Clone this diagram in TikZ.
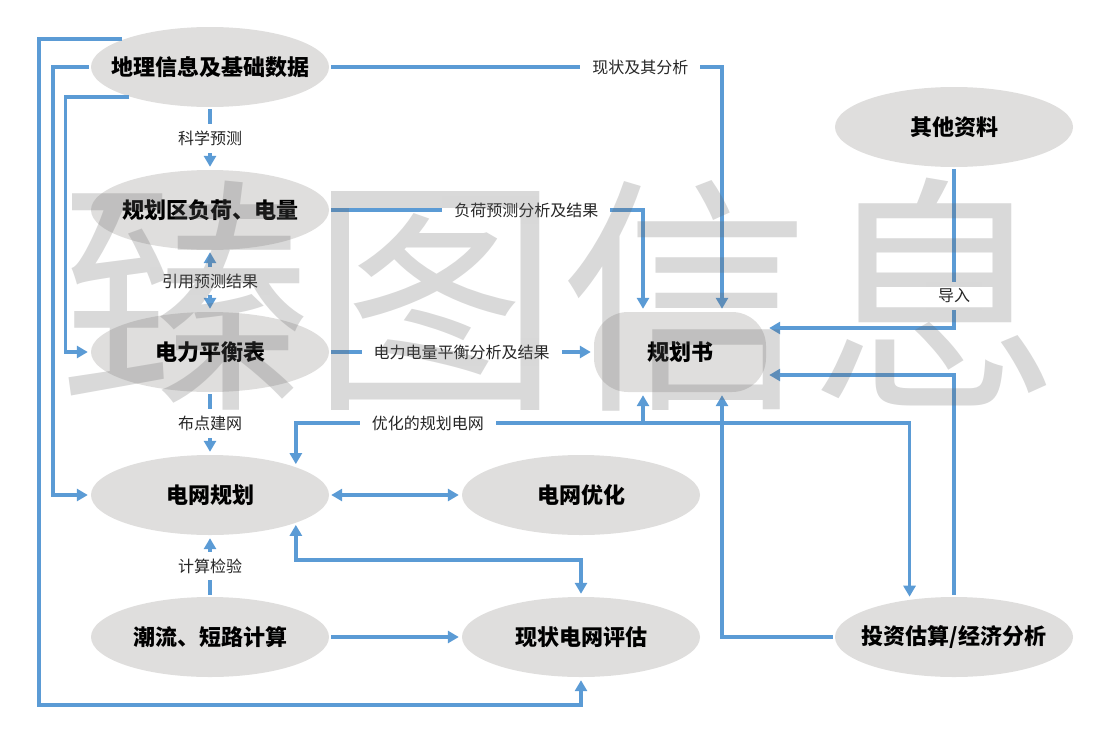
\documentclass[tikz,border=0pt]{standalone}
\usepackage{fontspec}
\newfontfamily\cjk{Noto Sans CJK SC}
\usepackage{tikz}
\usetikzlibrary{arrows.meta,shapes.geometric}
\definecolor{lnblue}{HTML}{5B9BD5}
\definecolor{ellgray}{HTML}{DFDEDD}
\tikzset{
  ell/.style={ellipse,fill=ellgray,minimum width=238pt,minimum height=80pt,inner xsep=-20pt,inner ysep=-5pt,font=\cjk\bfseries\fontsize{22}{24}\selectfont},
  arr/.style={draw=lnblue,line width=3.5pt,-{Triangle[length=11pt,width=12pt]},shorten <=2pt,shorten >=3pt},
  darr/.style={arr,{Triangle[length=11pt,width=12pt]}-{Triangle[length=11pt,width=12pt]}},
  lbl/.style={fill=white,inner xsep=12pt,inner ysep=7pt,text=black!85,font=\cjk\fontsize{16}{17}\selectfont},
  wm/.style={inner sep=0pt,text=black!60,text opacity=.25,font=\cjk\fontsize{250}{250}\selectfont},
}
\begin{document}
\begin{tikzpicture}[x=1pt,y=-1pt]
\useasboundingbox (0,0) rectangle (1097,728);
\node[ell] (geo) at (210,67) {地理信息及基础数据};
\node[ell] (load) at (210,210) {规划区负荷、电量};
\node[ell] (bal) at (210,352) {电力平衡表};
\node[ell] (grid) at (210,495) {电网规划};
\node[ell] (flow) at (210,637) {潮流、短路计算};
\node[ell] (opt) at (581,495) {电网优化};
\node[ell] (eval) at (581,637) {现状电网评估};
\node[ell] (other) at (954,127) {其他资料};
\node[ell] (inv) at (954,637) {投资估算/经济分析};
\node[ell,rectangle,rounded corners=34pt,minimum width=172pt] (book) at (680,352) {规划书};
\coordinate (loop) at (39,705);
\coordinate (bus) at (643,423);
% left column
\draw[arr] (geo) -- node[lbl]{科学预测} (load);
\draw[darr] (load) -- node[lbl]{引用预测结果} (bal);
\draw[arr] (bal) -- node[lbl]{布点建网} (grid);
\draw[arr] (flow) -- node[lbl]{计算检验} (grid);
\draw[darr] (grid) -- (opt);
\draw[arr] (flow) -- (eval);
\draw[darr] (grid.-18) -- ++(0,37) -| (eval);
\draw[arr] (geo.162) -| (loop) -| (eval);
\draw[arr] (geo.west) -- ++(-38,0) |- (grid);
\draw[arr] (geo.201) -- ++(-66,0) |- (bal);
% into the plan
\draw[arr] (geo) -| node[lbl,pos=.396]{现状及其分析} ([xshift=42pt]book.north);
\draw[arr] (load) -| node[lbl,pos=.314]{负荷预测分析及结果} ([xshift=-37pt]book.north);
\draw[arr] (bal) -- node[lbl]{电力电量平衡分析及结果} (book);
\draw[arr] (other) |- node[lbl,pos=.4]{导入} ([yshift=24pt]book.east);
\draw[arr] (inv) |- ([yshift=-23pt]book.east);
\draw[arr] (inv) -| ([xshift=42pt]book.south);
\draw[arr,shorten <=0pt] (bus) -- ([xshift=-37pt]book.south);
\draw[arr,shorten <=0pt] (bus) -| node[lbl,pos=.31]{优化的规划电网} (grid.18);
\draw[arr,shorten <=0pt] (bus) -| (inv.140);
\node[wm] (mark) at (560,295) {臻图信息};
\end{tikzpicture}
\end{document}
